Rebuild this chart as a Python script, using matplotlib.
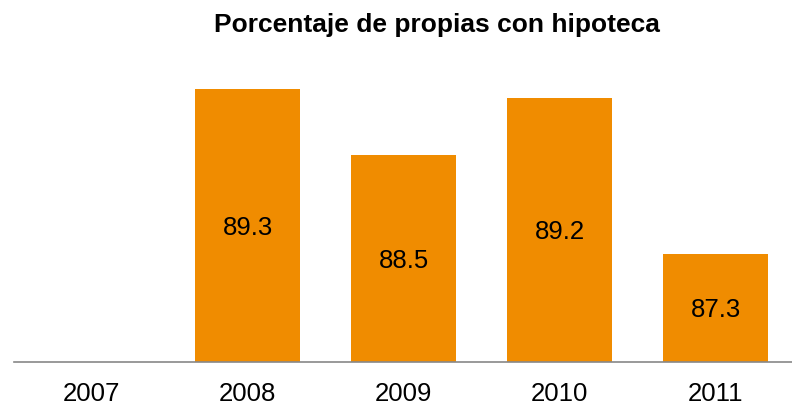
import matplotlib.pyplot as plt

years = ["2007", "2008", "2009", "2010", "2011"]
values = [None, 89.3, 88.5, 89.2, 87.3]


def main():
    plt.rcParams['font.family'] = ['Liberation Sans', 'DejaVu Sans']
    fig = plt.figure(figsize=(7.92, 4.17), dpi=100)
    # axes placed in pixels: baseline at y=361.5, 156 px per category
    ax = fig.add_axes([13.5 / 792, 55.5 / 417, 780 / 792, 305 / 417])

    base = 86.0
    x = list(range(len(years)))
    for i, v in enumerate(values):
        if v is None:
            continue
        ax.bar(i, v - base, bottom=base, width=0.667, color="#F08C00")
        ax.text(i, base + (v - base) / 2, f"{v:.1f}", ha="center",
                va="center_baseline", fontsize=18.5, color="black")

    ax.set_xlim(-0.5, len(years) - 0.5)
    ax.set_ylim(base, base + 305 / 82.5)
    ax.set_xticks(x)
    ax.set_xticklabels(years, fontsize=18.5)
    ax.tick_params(axis="x", length=0, pad=15)
    ax.set_yticks([])
    for s in ["top", "right", "left"]:
        ax.spines[s].set_visible(False)
    ax.spines["bottom"].set_color("#888888")
    ax.spines["bottom"].set_linewidth(1.2)

    fig.text(436.5 / 792, 1 - 25 / 417, "Porcentaje de propias con hipoteca",
             ha="center", va="center", fontsize=19, fontweight="bold")

    fig.savefig("out.png", dpi=100)


if __name__ == "__main__":
    main()
